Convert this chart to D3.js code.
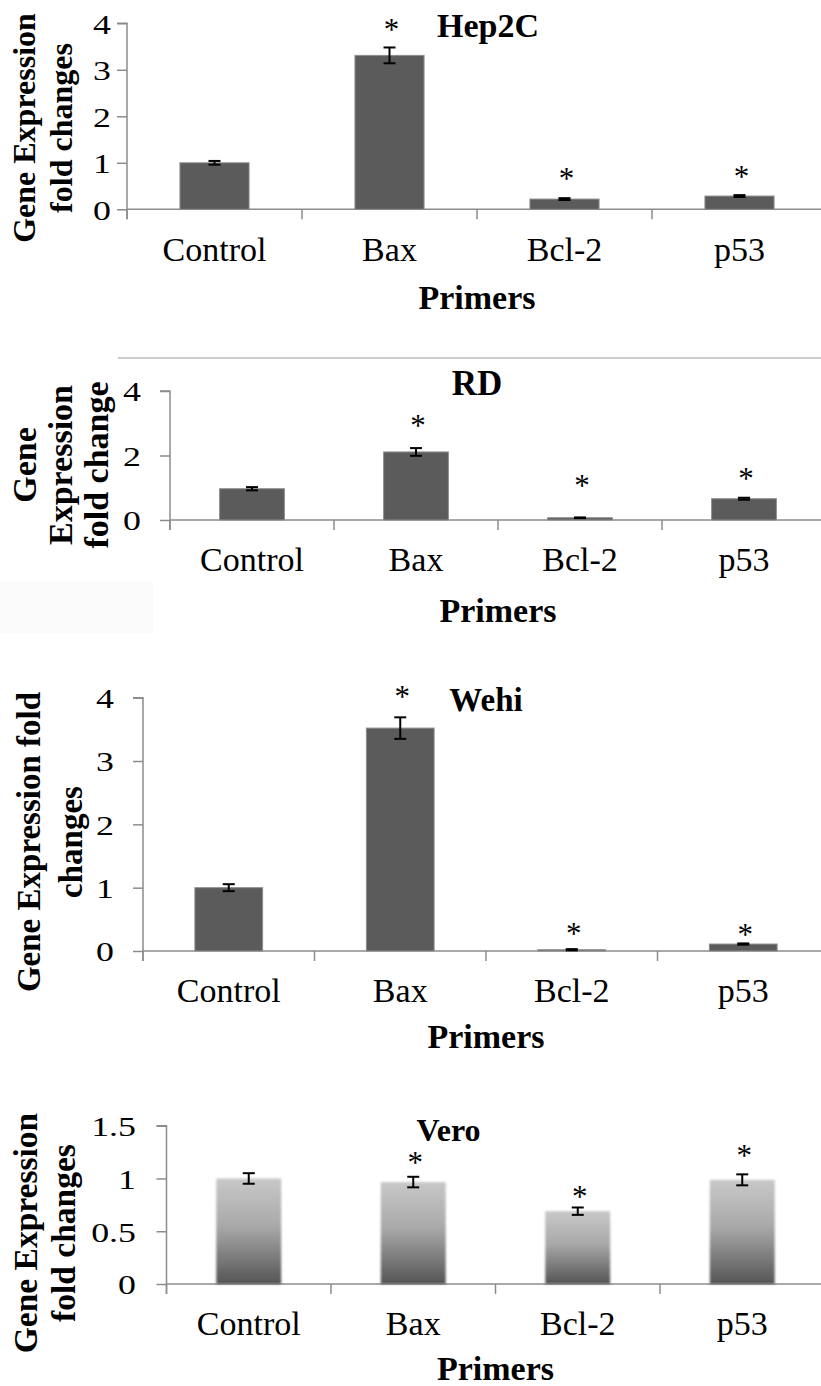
<!DOCTYPE html>
<html>
<head>
<meta charset="utf-8">
<script src="https://cdn.jsdelivr.net/npm/d3@7"></script>
<style>
  html, body { margin: 0; padding: 0; background: #fff; }
  svg { display: block; font-family: "Liberation Serif", "Times New Roman", serif; }
</style>
</head>
<body>
<svg id="chart" width="821" height="1386"></svg>
<script>
// ---------- DATA ----------
const categories = ["Control", "Bax", "Bcl-2", "p53"];

const hep2cValues = [1.00, 3.31, 0.22, 0.285];
const hep2cErrors = [0.04, 0.17, 0.02, 0.02];
const hep2cStars  = [null, 3.94, 0.74, 0.79];

const rdValues = [0.97, 2.11, 0.07, 0.66];
const rdErrors = [0.05, 0.12, 0.01, 0.03];
const rdStars  = [null, 3.05, 1.19, 1.40];

const wehiValues = [1.00, 3.52, 0.02, 0.11];
const wehiErrors = [0.055, 0.17, 0.01, 0.01];
const wehiStars  = [null, 4.08, 0.33, 0.32];

const veroValues = [1.00, 0.966, 0.69, 0.987];
const veroErrors = [0.05, 0.05, 0.035, 0.052];
const veroStars  = [null, 1.18, 0.865, 1.25];

const ticks0to4 = [0, 1, 2, 3, 4];
const ticksRD   = [0, 2, 4];
const ticksVero = [0, 0.5, 1, 1.5];
const tickLabelsVero = ["0", "0.5", "1", "1.5"];

const titles = ["Hep2C", "RD", "Wehi", "Vero"];
const xAxisTitle = "Primers";

// ---------- LAYOUT ----------
const svg = d3.select("#chart");
const defs = svg.append("defs");
const grad = defs.append("linearGradient").attr("id", "veroGrad")
  .attr("x1", 0).attr("y1", 0).attr("x2", 0).attr("y2", 1);
grad.append("stop").attr("offset", "0%").attr("stop-color", "#c8c8c8");
grad.append("stop").attr("offset", "45%").attr("stop-color", "#a9a9a9");
grad.append("stop").attr("offset", "100%").attr("stop-color", "#555555");
const blur = defs.append("filter").attr("id", "soft").attr("x", "-10%").attr("y", "-5%").attr("width", "120%").attr("height", "110%");
blur.append("feGaussianBlur").attr("in", "SourceGraphic").attr("stdDeviation", 0.8);

const panels = [
  { title: titles[0], values: hep2cValues, errors: hep2cErrors, stars: hep2cStars,
    ticks: ticks0to4, tickLabels: ticks0to4.map(String), yMax: 4,
    axisX: 127, step: 175, yZero: 209.3, yTopPx: 23.3,
    tickLabelRight: 111, catBaseline: 261, primersBaseline: 309,
    titleX: 488, titleBaseline: 37, titleSize: 34,
    yLabel: ["Gene Expression", "fold changes"], yLabelBase: [35, 72], yLabelCenter: 128, yLabelSize: 32,
    grad: false },
  { title: titles[1], values: rdValues, errors: rdErrors, stars: rdStars,
    ticks: ticksRD, tickLabels: ticksRD.map(String), yMax: 4,
    axisX: 170, step: 164, yZero: 520, yTopPx: 391,
    tickLabelRight: 141, catBaseline: 571, primersBaseline: 622,
    titleX: 477, titleBaseline: 395, titleSize: 35,
    yLabel: ["Gene", "Expression", "fold change"], yLabelBase: [36, 72, 108], yLabelCenter: 465, yLabelSize: 34,
    grad: false },
  { title: titles[2], values: wehiValues, errors: wehiErrors, stars: wehiStars,
    ticks: ticks0to4, tickLabels: ticks0to4.map(String), yMax: 4,
    axisX: 143, step: 171.5, yZero: 951, yTopPx: 697.7,
    tickLabelRight: 114, catBaseline: 1002, primersBaseline: 1048,
    titleX: 486, titleBaseline: 711, titleSize: 33,
    yLabel: ["Gene Expression fold", "changes"], yLabelBase: [40, 82], yLabelCenter: 842, yLabelSize: 33,
    grad: false },
  { title: titles[3], values: veroValues, errors: veroErrors, stars: veroStars,
    ticks: ticksVero, tickLabels: tickLabelsVero, yMax: 1.5,
    axisX: 166.5, step: 164.5, yZero: 1284, yTopPx: 1125.7,
    tickLabelRight: 136, catBaseline: 1335, primersBaseline: 1380,
    titleX: 448.5, titleBaseline: 1141, titleSize: 32,
    yLabel: ["Gene Expression", "fold changes"], yLabelBase: [37, 75], yLabelCenter: 1233, yLabelSize: 33.5,
    grad: true }
];

const axisColor = "#8c8c8c";

panels.forEach(p => {
  const g = svg.append("g");
  const x = d3.scaleBand().domain(categories)
    .range([p.axisX, p.axisX + p.step * categories.length]).padding(0);
  const y = d3.scaleLinear().domain([0, p.yMax]).range([p.yZero, p.yTopPx]);
  const barW = x.bandwidth() * 0.395;

  // Y axis
  const yAxis = d3.axisLeft(y).tickValues(p.ticks).tickSize(10).tickFormat((d, i) => p.tickLabels[i]);
  const yg = g.append("g").attr("transform", `translate(${p.axisX},0)`).call(yAxis)
    .attr("font-family", "Liberation Serif").attr("font-size", 28);
  yg.select(".domain").attr("stroke", axisColor).attr("stroke-width", 1.5)
    .attr("d", `M-10,${y(p.yMax)}H0V${p.yZero + 10}`);
  yg.selectAll(".tick line").attr("stroke", axisColor).attr("stroke-width", 1.5);
  yg.selectAll(".tick text")
    .attr("x", 0)
    .attr("dy", "0.35em")
    .attr("text-anchor", "end")
    .attr("transform", `translate(${p.tickLabelRight - p.axisX},0) scale(1.28,1)`)
    .attr("font-family", "Liberation Serif")
    .attr("font-size", 28).attr("fill", "#000");

  // X axis
  const xAxis = d3.axisBottom(x).tickSize(0).tickFormat("");
  const xg = g.append("g").attr("transform", `translate(0,${p.yZero})`).call(xAxis);
  xg.select(".domain").attr("stroke", axisColor).attr("stroke-width", 1.5)
    .attr("d", `M${p.axisX},0H821`);
  xg.selectAll(".tick").remove();
  // category boundary ticks
  g.selectAll(".cattick").data(categories).enter().append("line")
    .attr("x1", d => x(d)).attr("x2", d => x(d))
    .attr("y1", p.yZero).attr("y2", p.yZero + 10)
    .attr("stroke", axisColor).attr("stroke-width", 1.5);

  // Bars
  g.selectAll(".bar").data(p.values).enter().append("rect")
    .attr("x", (d, i) => x(categories[i]) + x.bandwidth() / 2 - barW / 2)
    .attr("width", barW)
    .attr("y", d => y(d))
    .attr("height", d => y(0) - y(d))
    .attr("fill", p.grad ? "url(#veroGrad)" : "#5b5b5b")
    .attr("stroke", p.grad ? "none" : "#8d8d8d")
    .attr("stroke-width", p.grad ? 0 : 1)
    .attr("filter", p.grad ? "url(#soft)" : null);

  // Error bars
  const capW = 12;
  p.values.forEach((v, i) => {
    const cx = x(categories[i]) + x.bandwidth() / 2;
    const e = p.errors[i];
    const eg = g.append("g").attr("stroke", "#000").attr("stroke-width", 2);
    eg.append("line").attr("x1", cx).attr("x2", cx).attr("y1", y(v + e)).attr("y2", y(v - e));
    eg.append("line").attr("x1", cx - capW / 2).attr("x2", cx + capW / 2).attr("y1", y(v + e)).attr("y2", y(v + e));
    eg.append("line").attr("x1", cx - capW / 2).attr("x2", cx + capW / 2).attr("y1", y(v - e)).attr("y2", y(v - e));
  });

  // Significance stars
  g.selectAll(".star").data(p.stars.map((s, i) => ({ s, i })).filter(d => d.s !== null)).enter()
    .append("text")
    .attr("x", d => x(categories[d.i]) + x.bandwidth() / 2 + 2)
    .attr("y", d => y(d.s) + 14)
    .attr("text-anchor", "middle")
    .attr("font-size", 31).attr("fill", "#000")
    .text("*");

  // Category labels
  g.selectAll(".cat").data(categories).enter().append("text")
    .attr("x", d => x(d) + x.bandwidth() / 2)
    .attr("y", p.catBaseline)
    .attr("text-anchor", "middle")
    .attr("font-size", 34).attr("fill", "#000")
    .text(d => d);

  // X axis title
  g.append("text")
    .attr("x", (x.range()[0] + x.range()[1]) / 2)
    .attr("y", p.primersBaseline)
    .attr("text-anchor", "middle")
    .attr("font-size", 34).attr("font-weight", "bold").attr("fill", "#000")
    .text(xAxisTitle);

  // Chart title
  g.append("text")
    .attr("x", p.titleX).attr("y", p.titleBaseline)
    .attr("text-anchor", "middle")
    .attr("font-size", p.titleSize).attr("font-weight", "bold").attr("fill", "#000")
    .text(p.title);

  // Y axis title (rotated)
  p.yLabel.forEach((line, k) => {
    g.append("text")
      .attr("transform", "rotate(-90)")
      .attr("x", -p.yLabelCenter).attr("y", p.yLabelBase[k])
      .attr("text-anchor", "middle")
      .attr("font-size", p.yLabelSize).attr("font-weight", "bold").attr("fill", "#000")
      .text(line);
  });
});

// Separator line above RD panel and faint box
svg.append("line").attr("x1", 118).attr("x2", 821).attr("y1", 358).attr("y2", 358)
  .attr("stroke", "#999").attr("stroke-width", 1);
svg.insert("rect", ":first-child").attr("x", 0).attr("y", 581).attr("width", 153).attr("height", 52)
  .attr("fill", "#fbfbfb");
</script>
</body>
</html>
